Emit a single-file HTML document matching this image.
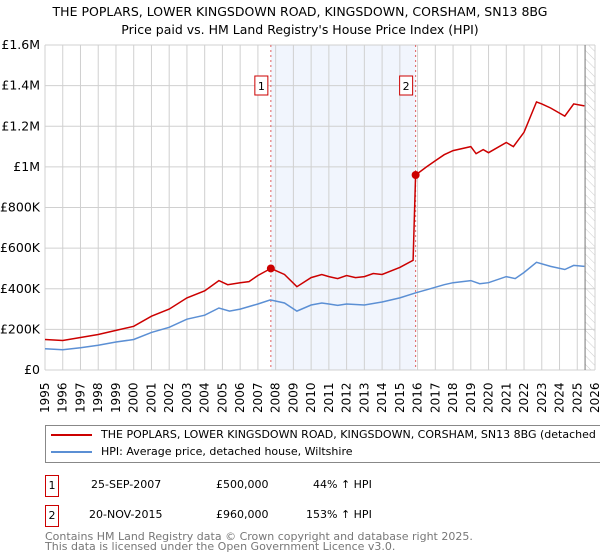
<!DOCTYPE html>
<html><head><meta charset="utf-8"><style>
body{margin:0;background:#fff;font-family:"DejaVu Sans","Liberation Sans",sans-serif;}
#wrap{position:relative;width:600px;height:560px;overflow:hidden;}
.t{position:absolute;white-space:nowrap;color:#000;}
</style></head><body>
<div id="wrap">
<div class="t" style="left:0;width:600px;text-align:center;top:3px;font-size:12.5px;line-height:18px">THE POPLARS, LOWER KINGSDOWN ROAD, KINGSDOWN, CORSHAM, SN13 8BG<br>Price paid vs. HM Land Registry's House Price Index (HPI)</div>
<svg id="chart" width="600" height="420" style="position:absolute;left:0;top:0"></svg>
<div style="position:absolute;left:45px;top:425px;width:600px;height:36px;border:1px solid #888;font-size:11px">
 <div style="position:absolute;left:5px;top:2px"><span style="display:inline-block;width:41px;height:2px;background:#cc0000;vertical-align:middle;margin-right:9px"></span>THE POPLARS, LOWER KINGSDOWN ROAD, KINGSDOWN, CORSHAM, SN13 8BG (detached house)</div>
 <div style="position:absolute;left:5px;top:19px"><span style="display:inline-block;width:41px;height:2px;background:#5b8fd4;vertical-align:middle;margin-right:9px"></span>HPI: Average price, detached house, Wiltshire</div>
</div>
<div style="position:absolute;left:0;top:475px;font-size:11px">
 <div class="t" style="left:45px;top:0;width:12px;height:20px;border:1px solid #cc0000;text-align:center;line-height:20px">1</div>
 <div class="t" style="left:91px;top:3px">25-SEP-2007</div>
 <div class="t" style="left:216px;top:3px">£500,000</div>
 <div class="t" style="left:313px;top:3px">44% ↑ HPI</div>
</div>
<div style="position:absolute;left:0;top:505px;font-size:11px">
 <div class="t" style="left:45px;top:0;width:12px;height:20px;border:1px solid #cc0000;text-align:center;line-height:20px">2</div>
 <div class="t" style="left:89px;top:3px">20-NOV-2015</div>
 <div class="t" style="left:216px;top:3px">£960,000</div>
 <div class="t" style="left:306px;top:3px">153% ↑ HPI</div>
</div>
<div class="t" style="left:45px;top:532px;font-size:11px;line-height:10px;color:#777">Contains HM Land Registry data © Crown copyright and database right 2025.<br>This data is licensed under the Open Government Licence v3.0.</div>
</div>
<script>
const yTicks=[0,200000,400000,600000,800000,1000000,1200000,1400000,1600000];
const yTickLabels=["£0","£200K","£400K","£600K","£800K","£1M","£1.2M","£1.4M","£1.6M"];
const xYears=[1995,1996,1997,1998,1999,2000,2001,2002,2003,2004,2005,2006,2007,2008,2009,2010,2011,2012,2013,2014,2015,2016,2017,2018,2019,2020,2021,2022,2023,2024,2025,2026];
const hpiT=[1995,1996,1997,1998,1999,2000,2001,2002,2003,2004,2004.8,2005.4,2006,2007,2007.7,2008.5,2009.2,2010,2010.6,2011,2011.5,2012,2013,2014,2015,2015.9,2016.5,2017.5,2018,2019,2019.5,2020,2021,2021.5,2022,2022.7,2023.5,2024.3,2024.8,2025.4];
const hpiV=[105,100,110,122,138,150,185,210,250,270,305,290,300,325,345,330,290,320,330,325,318,325,320,335,355,380,395,420,430,440,425,430,460,450,480,530,510,495,515,510];
const priceT=[1995,1996,1997,1998,1999,2000,2001,2002,2003,2004,2004.8,2005.3,2006,2006.5,2007,2007.73,2008.5,2009.2,2010,2010.6,2011,2011.5,2012,2012.5,2013,2013.5,2014,2015,2015.75,2015.89,2016.5,2017,2017.5,2018,2019,2019.3,2019.7,2020,2021,2021.4,2022,2022.7,2023,2023.5,2024.3,2024.8,2025.4];
const priceV=[150,145,160,175,195,215,265,300,355,390,440,420,430,435,465,500,470,410,455,470,460,450,465,455,460,475,470,505,540,960,1000,1030,1060,1080,1100,1065,1085,1070,1120,1100,1170,1320,1310,1290,1250,1310,1300];
const salesT=[2007.73,2015.89];
const salesV=[500,960];
const salesLabels=["1","2"];
const dataEnd=2025.44;
const NS="http://www.w3.org/2000/svg";
const svg=document.getElementById('chart');
const X0=45,X1=595,Y0=370,Y1=45;
const x=t=>X0+(t-1995)/(2026-1995)*(X1-X0);
const y=v=>Y0-v/1600000*(Y0-Y1);
function mk(tag,a){const e=document.createElementNS(NS,tag);for(const k in a)e.setAttribute(k,a[k]);svg.appendChild(e);return e;}
let e;
e=mk('rect',{x:x(salesT[0]),y:Y1,width:x(salesT[1])-x(salesT[0]),height:Y0-Y1,fill:'#eef3fc',opacity:0.8});


const defs=mk('defs',{});
defs.innerHTML='<pattern id="hatch" width="6" height="6" patternUnits="userSpaceOnUse" patternTransform="rotate(-45)"><line x1="0" y1="0" x2="0" y2="6" stroke="#ccc" stroke-width="1"/></pattern>';
e=mk('rect',{x:x(dataEnd),y:Y1,width:X1-x(dataEnd),height:Y0-Y1,fill:'url(#hatch)'});


xYears.forEach(t=>{e=mk('line',{x1:x(t),x2:x(t),y1:Y1,y2:Y0,stroke:'#d0d0d0','stroke-width':1});


e=mk('text',{x:0,y:0,transform:`translate(${x(t)+4},${413}) rotate(-90)`,'font-size':12,fill:'#000','font-family':'DejaVu Sans, sans-serif'});e.textContent=t;

});
yTicks.forEach((v,i)=>{e=mk('line',{x1:X0,x2:X1,y1:y(v),y2:y(v),stroke:'#d0d0d0','stroke-width':1});


e=mk('text',{x:40,y:y(v)+4,'text-anchor':'end','font-size':12.5,fill:'#000','font-family':'DejaVu Sans, sans-serif'});e.textContent=yTickLabels[i];

});
e=mk('line',{x1:x(dataEnd),x2:x(dataEnd),y1:Y1,y2:Y0,stroke:'#777','stroke-width':1});


salesT.forEach((t,i)=>{e=mk('line',{x1:x(t),x2:x(t),y1:Y1,y2:Y0,stroke:'#e06060','stroke-width':1,'stroke-dasharray':'2,3'});


e=mk('rect',{x:x(t)-16,y:76,width:13,height:19,fill:'#fff',stroke:'#cc0000'});


e=mk('text',{x:x(t)-9.5,y:90,'text-anchor':'middle','font-size':11,fill:'#000'});e.textContent=salesLabels[i];

});
const pts=(T,V)=>T.map((t,i)=>x(t).toFixed(1)+','+y(V[i]*1000).toFixed(1)).join(' ');
e=mk('polyline',{points:pts(hpiT,hpiV),fill:'none',stroke:'#5b8fd4','stroke-width':1.5});


e=mk('polyline',{points:pts(priceT,priceV),fill:'none',stroke:'#cc0000','stroke-width':1.5});


salesT.forEach((t,i)=>{e=mk('circle',{cx:x(t),cy:y(salesV[i]*1000),r:4,fill:'#cc0000'});

});
</script>
</body></html>
